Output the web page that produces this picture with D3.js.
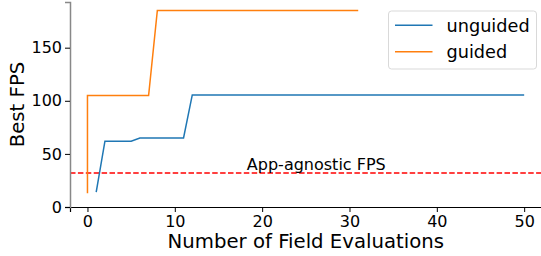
<!DOCTYPE html>
<html>
<head>
<meta charset="utf-8">
<script src="https://cdn.jsdelivr.net/npm/d3@7"></script>
<style>
  body { margin: 0; background: #fff; }
  text { font-family: "DejaVu Sans", sans-serif; }
</style>
</head>
<body>
<script>
// data
var unguidedX = [1, 2, 5, 6, 11, 12, 50];
var unguidedY = [14, 62, 62, 65, 65, 105.5, 105.5];
var guidedX = [0, 0, 7, 8, 31];
var guidedY = [13, 105, 105, 185, 185];
var baselineFps = 32;
var xTicks = [0, 10, 20, 30, 40, 50];
var yTicks = [0, 50, 100, 150];

var width = 541, height = 256;
var margin = {top: 2, right: -5, bottom: 49, left: 70};

const svg = d3.select("body").append("svg")
  .attr("width", width)
  .attr("height", height);

var x = d3.scaleLinear().domain([-2, 52.5]).range([margin.left, width - margin.right]);
var y = d3.scaleLinear().domain([0, 193]).range([height - margin.bottom, margin.top]);

var unguided = unguidedX.map(function(d, i) { return {x: d, y: unguidedY[i]}; });
var guided = guidedX.map(function(d, i) { return {x: d, y: guidedY[i]}; });

var line = d3.line().x(function(d) { return x(d.x); }).y(function(d) { return y(d.y); });

// red dashed reference line
svg.append("line")
  .attr("x1", x(-2)).attr("x2", x(52.5))
  .attr("y1", y(baselineFps)).attr("y2", y(baselineFps))
  .attr("stroke", "#ff0000")
  .attr("stroke-width", 1.5)
  .attr("stroke-dasharray", "5.5,2.4");

svg.append("text")
  .attr("x", x(26.2)).attr("y", y(baselineFps) - 3)
  .attr("text-anchor", "middle")
  .style("font-size", "16px")
  .text("App-agnostic FPS");

svg.append("path").datum(unguided)
  .attr("d", line).attr("fill", "none")
  .attr("stroke", "#1f77b4").attr("stroke-width", 1.5);

svg.append("path").datum(guided)
  .attr("d", line).attr("fill", "none")
  .attr("stroke", "#ff7f0e").attr("stroke-width", 1.5);

// axes
var xAxis = svg.append("g")
  .attr("transform", "translate(0," + y(0) + ")")
  .call(d3.axisBottom(x).tickValues(xTicks).tickSize(5).tickPadding(4));
xAxis.select(".domain").attr("stroke", "#000").attr("stroke-width", 1.2);
xAxis.selectAll("text").style("font-size", "16px").attr("fill", "#000");

var yAxis = svg.append("g")
  .attr("transform", "translate(" + margin.left + ",0)")
  .call(d3.axisLeft(y).tickValues(yTicks).tickSize(5).tickPadding(3));
yAxis.select(".domain").attr("stroke", "#888").attr("stroke-width", 1.5);
yAxis.selectAll("text").style("font-size", "16px").attr("fill", "#000");

svg.append("text")
  .attr("x", x(25)).attr("y", 248)
  .attr("text-anchor", "middle")
  .style("font-size", "19.7px")
  .text("Number of Field Evaluations");

svg.append("text")
  .attr("transform", "translate(24," + y(96.5) + ") rotate(-90)")
  .attr("text-anchor", "middle")
  .style("font-size", "19.7px")
  .text("Best FPS");

// legend
var legend = svg.append("g").attr("transform", "translate(388.5,11)");
legend.append("rect")
  .attr("width", 148).attr("height", 58)
  .attr("rx", 3)
  .attr("fill", "#fff").attr("fill-opacity", 0.8)
  .attr("stroke", "#d9d9d9");
var items = [{name: "unguided", color: "#1f77b4"}, {name: "guided", color: "#ff7f0e"}];
items.forEach(function(d, i) {
  var yy = 14.3 + i * 26.4;
  legend.append("line")
    .attr("x1", 6.5).attr("x2", 44).attr("y1", yy).attr("y2", yy)
    .attr("stroke", d.color).attr("stroke-width", 1.5);
  legend.append("text")
    .attr("x", 58).attr("y", yy + 6.3)
    .style("font-size", "17.7px")
    .text(d.name);
});
</script>
</body>
</html>
